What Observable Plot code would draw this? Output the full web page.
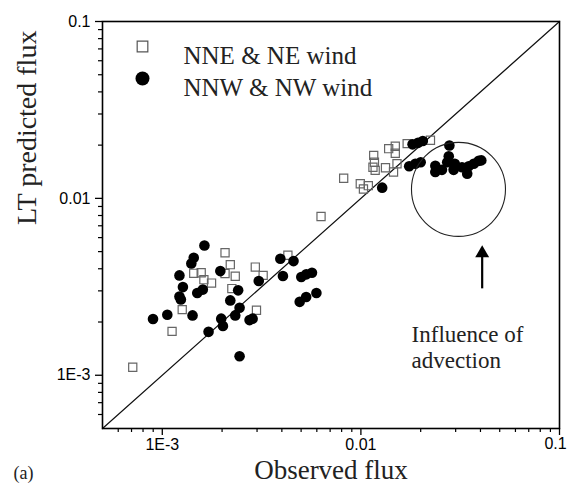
<!DOCTYPE html>
<html>
<head>
<meta charset="utf-8">
<script src="https://cdn.jsdelivr.net/npm/d3@7"></script>
<script src="https://cdn.jsdelivr.net/npm/@observablehq/plot@0.6"></script>
<style>
  html, body { margin: 0; padding: 0; background: white; }
</style>
</head>
<body>
<div id="chart"></div>
<script>
// ---- Data ----
const nneObserved = [7.1e-4, 1.12e-3, 1.26e-3, 1.44e-3, 1.57e-3, 1.62e-3, 1.77e-3, 2.07e-3, 2.20e-3, 2.07e-3,
  2.33e-3, 2.24e-3, 2.94e-3, 3.22e-3, 2.98e-3, 4.29e-3, 6.3e-3, 8.19e-3, 9.93e-3, 1.03e-2,
  1.09e-2, 1.16e-2, 1.17e-2, 1.15e-2, 1.18e-2, 1.33e-2, 1.38e-2, 1.49e-2, 1.49e-2, 1.46e-2,
  1.52e-2, 1.71e-2, 2.24e-2];
const nnePredicted = [1.11e-3, 1.77e-3, 2.35e-3, 3.77e-3, 3.80e-3, 3.47e-3, 3.32e-3, 4.93e-3, 4.22e-3, 3.76e-3,
  3.63e-3, 3.09e-3, 4.09e-3, 3.67e-3, 2.33e-3, 4.77e-3, 7.9e-3, 1.30e-2, 1.21e-2, 1.13e-2,
  1.18e-2, 1.75e-2, 1.60e-2, 1.50e-2, 1.44e-2, 1.49e-2, 1.91e-2, 1.97e-2, 1.80e-2, 1.41e-2,
  1.57e-2, 2.04e-2, 2.13e-2];

const nnwObserved = [8.98e-4, 1.06e-3, 1.22e-3, 1.27e-3, 1.22e-3, 1.24e-3, 1.40e-3, 1.44e-3, 1.63e-3, 1.42e-3,
  1.50e-3, 1.60e-3, 1.71e-3, 1.96e-3, 1.98e-3, 2.02e-3, 2.20e-3, 2.41e-3, 2.33e-3, 2.45e-3,
  2.45e-3, 2.75e-3, 2.85e-3, 3.06e-3, 3.93e-3, 4.05e-3, 4.58e-3, 5.01e-3, 5.31e-3, 5.67e-3,
  4.92e-3, 5.30e-3, 5.97e-3, 1.28e-2, 1.82e-2, 1.94e-2, 2.05e-2, 1.75e-2, 1.88e-2, 2.00e-2,
  2.79e-2, 2.77e-2, 2.72e-2, 2.37e-2, 2.37e-2, 2.56e-2, 2.93e-2, 2.97e-2, 3.23e-2, 3.43e-2,
  3.49e-2, 3.70e-2, 3.92e-2, 4.04e-2];
const nnwPredicted = [2.08e-3, 2.20e-3, 3.67e-3, 3.15e-3, 2.79e-3, 2.68e-3, 4.28e-3, 4.62e-3, 5.41e-3, 2.18e-3,
  2.92e-3, 3.05e-3, 1.76e-3, 3.88e-3, 2.09e-3, 1.90e-3, 2.65e-3, 3.02e-3, 2.18e-3, 2.41e-3,
  1.28e-3, 2.05e-3, 2.09e-3, 3.41e-3, 4.56e-3, 3.64e-3, 4.42e-3, 3.59e-3, 3.72e-3, 3.80e-3,
  2.60e-3, 2.77e-3, 2.92e-3, 1.15e-2, 2.02e-2, 2.06e-2, 2.11e-2, 1.52e-2, 1.57e-2, 1.60e-2,
  1.99e-2, 1.73e-2, 1.60e-2, 1.53e-2, 1.41e-2, 1.45e-2, 1.45e-2, 1.57e-2, 1.50e-2, 1.38e-2,
  1.52e-2, 1.57e-2, 1.63e-2, 1.64e-2];

const seriesNames = ["NNE & NE wind", "NNW & NW wind"];
const axisDomain = [5e-4, 0.1];
const majorTicks = [1e-3, 0.01, 0.1];
const majorTickLabels = ["1E-3", "0.01", "0.1"];
const minorTicks = [6e-4, 7e-4, 8e-4, 9e-4,
  2e-3, 3e-3, 4e-3, 5e-3, 6e-3, 7e-3, 8e-3, 9e-3,
  0.02, 0.03, 0.04, 0.05, 0.06, 0.07, 0.08, 0.09];
const xTitle = "Observed flux";
const yTitle = "LT predicted flux";
const panelLabel = "(a)";
const annotationText = "Influence of\nadvection";
const annotationAt = {x: 0.018, y: 1.45e-3};
const advectionCircle = {x: 0.031, y: 0.01125};
const arrowX = 0.0408, arrowTail = 3.1e-3, arrowShaftEnd = 4.76e-3, arrowHead = 4.89e-3;

const nne = nneObserved.map((x, i) => ({x, y: nnePredicted[i]}));
const nnw = nnwObserved.map((x, i) => ({x, y: nnwPredicted[i]}));
const fmt = d => majorTickLabels[majorTicks.indexOf(d)] ?? "";
const lastMajor = majorTicks[majorTicks.length - 1];

const serif = "'Liberation Serif', 'Times New Roman', serif";
const sans = "'Liberation Sans', Arial, sans-serif";

const chart = Plot.plot({
  width: 568,
  height: 493,
  marginTop: 21,
  marginRight: 9,
  marginBottom: 65,
  marginLeft: 102,
  style: {fontFamily: sans, fontSize: "16px", color: "black", background: "white"},
  x: {type: "log", domain: axisDomain, axis: null},
  y: {type: "log", domain: axisDomain, axis: null},
  marks: [
    // axes
    Plot.axisX({ticks: majorTicks.slice(0, -1), tickSize: 7, tickPadding: 3, tickFormat: fmt, label: null, strokeWidth: 1.3, fontSize: 16}),
    Plot.axisX({ticks: [lastMajor], tickSize: 7, tickPadding: 3, tickFormat: () => "", label: null, strokeWidth: 1.3}),
    Plot.text([lastMajor], {x: d => d, text: fmt, frameAnchor: "bottom", dy: 20, dx: -4, fontFamily: sans, fontSize: 16}),
    Plot.axisX({ticks: minorTicks, tickSize: 4, tickFormat: () => "", label: null, strokeWidth: 1.2}),
    Plot.axisY({ticks: majorTicks, tickSize: 7, tickPadding: 5, tickFormat: fmt, label: null, strokeWidth: 1.3, fontSize: 16}),
    Plot.axisY({ticks: minorTicks, tickSize: 4, tickFormat: () => "", label: null, strokeWidth: 1.2}),
    // 1:1 line
    Plot.line(axisDomain, {x: d => d, y: d => d, stroke: "#111", strokeWidth: 1.2}),
    // data
    Plot.dot(nne, {x: "x", y: "y", symbol: "square", r: 4.6, stroke: "#666", strokeWidth: 1.2, fill: "none"}),
    Plot.dot(nnw, {x: "x", y: "y", r: 5.3, fill: "black", stroke: "none"}),
    // annotation: circle, arrow, text
    Plot.dot([advectionCircle], {x: "x", y: "y", r: 47, fill: "none", stroke: "#222", strokeWidth: 1.1}),
    Plot.link([0], {x1: () => arrowX, x2: () => arrowX, y1: () => arrowTail, y2: () => arrowShaftEnd, stroke: "black", strokeWidth: 2.2}),
    Plot.dot([0], {x: () => arrowX, y: () => arrowHead, symbol: "triangle", r: 5.2, fill: "black", stroke: "none"}),
    Plot.text([annotationText], {x: () => annotationAt.x, y: () => annotationAt.y, text: d => d, textAnchor: "start", lineHeight: 1.15, fontFamily: serif, fontSize: 23, fill: "#222"}),
    // legend
    Plot.dot([seriesNames[0]], {frameAnchor: "top-left", dx: 40, dy: 25, symbol: "square", r: 6, stroke: "#555", strokeWidth: 1.2, fill: "none"}),
    Plot.dot([seriesNames[1]], {frameAnchor: "top-left", dx: 40, dy: 57, r: 7, fill: "black"}),
    Plot.text([seriesNames[0]], {text: d => d, frameAnchor: "top-left", dx: 81, dy: 25, textAnchor: "start", fontFamily: serif, fontSize: 25, fill: "#222"}),
    Plot.text([seriesNames[1]], {text: d => d, frameAnchor: "top-left", dx: 81, dy: 57, textAnchor: "start", fontFamily: serif, fontSize: 25, fill: "#222"}),
    // titles
    Plot.text([xTitle], {text: d => d, frameAnchor: "bottom", dy: 50, fontFamily: serif, fontSize: 27, fill: "#222"}),
    Plot.text([yTitle], {text: d => d, frameAnchor: "left", dx: -75, rotate: -90, fontFamily: serif, fontSize: 28, fill: "#222"}),
    Plot.text([panelLabel], {text: d => d, frameAnchor: "bottom-left", dx: -89, dy: 50, fontFamily: serif, fontSize: 18, fill: "#222"}),
    // frame
    Plot.frame({stroke: "black", strokeWidth: 1.6})
  ]
});
document.getElementById("chart").appendChild(chart);
</script>
</body>
</html>
